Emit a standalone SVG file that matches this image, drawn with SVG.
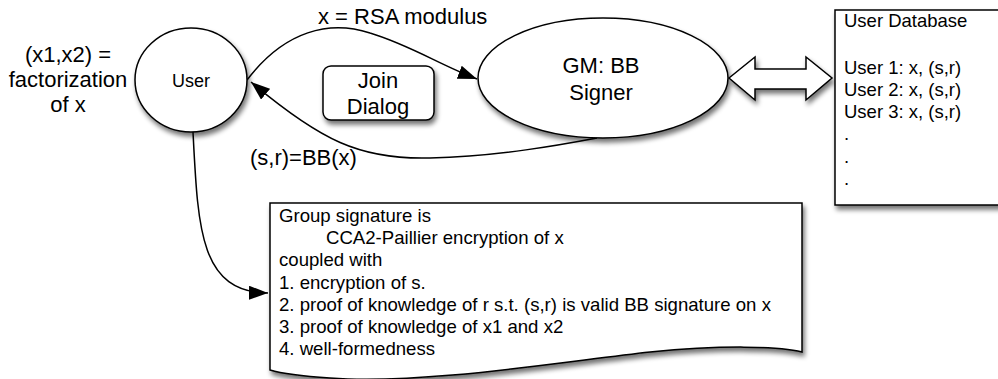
<svg xmlns="http://www.w3.org/2000/svg" width="998" height="379" viewBox="0 0 998 379">
<style>
.shape{fill:#fff;stroke:#000;stroke-width:1.5;filter:url(#sh)}
.t{font-family:"Liberation Sans",Arial,Helvetica,sans-serif;fill:#000}
.big{font-size:22px}
.mid{font-size:18.6px}
.c{text-anchor:middle}
.conn{fill:none;stroke:#000;stroke-width:1.5;marker-end:url(#ah)}
</style>
<defs>
<filter id="sh" x="-20%" y="-20%" width="150%" height="150%">
<feGaussianBlur in="SourceAlpha" stdDeviation="2.5"/>
<feOffset dx="2" dy="4" result="b"/>
<feComponentTransfer><feFuncA type="linear" slope="0.55"/></feComponentTransfer>
<feMerge><feMergeNode/><feMergeNode in="SourceGraphic"/></feMerge>
</filter>
<marker id="ah" markerUnits="userSpaceOnUse" markerWidth="20" markerHeight="14" refX="19" refY="7" orient="auto">
<path d="M0,0 L19,7 L0,14 z" fill="#000"/>
</marker>
</defs>
<rect width="998" height="379" fill="#fff"/>

<g id="connectors">
<path class="conn" d="M247,80 C285,30 330,20 370,33 C410,45 440,65 477,79"/>
<path class="conn" d="M597,138 C560,145 500,156 430,158 C360,160 320,140 251,82"/>
<path class="conn" d="M193,132 C198,230 200,292 268,293"/>
<text class="t big" x="318" y="24">x = RSA modulus</text>
<text class="t big" x="250" y="165">(s,r)=BB(x)</text>
</g>

<g id="user-label">
<text class="t big c" x="68" y="62">(x1,x2) =</text>
<text class="t big c" x="68" y="87">factorization</text>
<text class="t big c" x="68" y="112">of x</text>
</g>

<g id="user">
<ellipse class="shape" cx="191" cy="80" rx="56" ry="52"/>
<text class="t c" x="191" y="87" font-size="18">User</text>
</g>

<g id="join-dialog">
<rect class="shape" x="323" y="66" width="111" height="54" rx="8"/>
<text class="t big c" x="378" y="88">Join</text>
<text class="t big c" x="378" y="114">Dialog</text>
</g>

<g id="gm">
<ellipse class="shape" cx="603" cy="78" rx="125" ry="60"/>
<text class="t big c" x="601" y="73">GM: BB</text>
<text class="t big c" x="601" y="100">Signer</text>
</g>

<g id="double-arrow">
<path class="shape" d="M729,78 L755,57 L755,69 L806,69 L806,57 L832,78 L806,100 L806,89 L755,89 L755,100 Z"/>
</g>

<g id="user-database">
<rect class="shape" x="835" y="10" width="200" height="195"/>
<text class="t" x="844" y="27" font-size="18.5">User Database</text>
<text class="t" x="844" y="74" font-size="18.5">User 1: x, (s,r)</text>
<text class="t" x="844" y="96" font-size="18.5">User 2: x, (s,r)</text>
<text class="t" x="844" y="118" font-size="18.5">User 3: x, (s,r)</text>
<text class="t" x="844" y="140" font-size="18.5">.</text>
<text class="t" x="844" y="163" font-size="18.5">.</text>
<text class="t" x="844" y="185" font-size="18.5">.</text>
</g>

<g id="group-signature-note">
<path class="shape" d="M270,203 H802 V352 C780,346 720,345 650,352 C560,362 420,385 330,378 C300,376 280,373 270,370 Z"/>
<text class="t mid" x="279" y="222">Group signature is</text>
<text class="t mid" x="326" y="244">CCA2-Paillier encryption of x</text>
<text class="t mid" x="279" y="266">coupled with</text>
<text class="t mid" x="279" y="289">1. encryption of s.</text>
<text class="t mid" x="279" y="311">2. proof of knowledge of r s.t. (s,r) is valid BB signature on x</text>
<text class="t mid" x="279" y="333">3. proof of knowledge of x1 and x2</text>
<text class="t mid" x="279" y="355">4. well-formedness</text>
</g>
</svg>
